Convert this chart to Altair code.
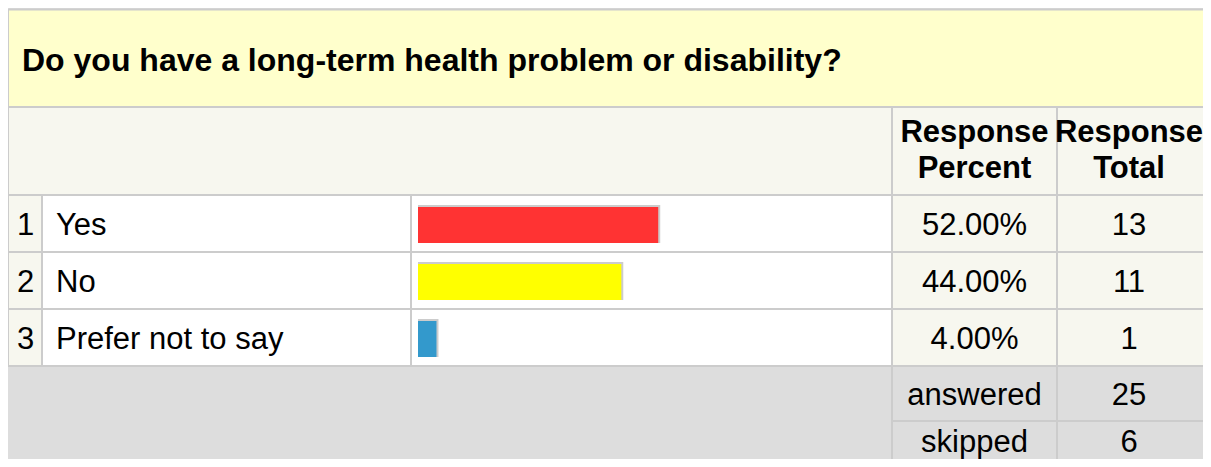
import altair as alt
import pandas as pd

# ---------------- data ----------------
question = "Do you have a long-term health problem or disability?"
answers = ["Yes", "No", "Prefer not to say"]
percents = [52.0, 44.0, 4.0]
counts = [13, 11, 1]
bar_colors = ["#ff3333", "#ffff00", "#3399cc"]
header_percent = ["Response", "Percent"]
header_total = ["Response", "Total"]
summary_labels = ["answered", "skipped"]
summary_values = [25, 6]

# ---------------- layout (page pixels) ----------------
PW, PH, M = 1203, 459, 8          # visible page area is M..PW x M..PH
COL = [8, 42, 411, 892, 1057, 1214]
TITLE_TOP, TITLE_BOT, HEAD_BOT = 9.5, 107, 195
ROW_H = 57
SUM_EDGES = [366, 421, 480]
SUM_BASE = [405, 452]
PCT_CX = (COL[3] + COL[4]) / 2
TOT_CX = 1129
CREAM, WHITE, GRAY, TITLE_BG, LINE = "#f7f7ef", "#ffffff", "#dddddd", "#ffffcc", "#cccccc"
FONT, FS = "Liberation Sans", 31

XS = alt.Scale(domain=[M, PW], range=[0, PW - M], zero=False, nice=False)
YS = alt.Scale(domain=[M, PH], range=[0, PH - M], zero=False, nice=False)
XB = alt.Scale(domain=[0, 100], range=[418 - M, 880 - M], zero=False, nice=False)

# rows table
rows = pd.DataFrame({"idx": range(1, len(answers) + 1), "answer": answers,
                     "pct": percents, "count": counts, "color": bar_colors})
rows["frac"] = rows["pct"] / 100.0
rows["top"] = HEAD_BOT + (rows["idx"] - 1) * ROW_H
rows["base"] = rows["top"] + 40
rows["btop"] = rows["top"] + 12
rows["bbot"] = rows["top"] + 48
rows["num_x"] = (COL[0] + COL[1]) / 2 + 0.5
rows["lab_x"] = COL[1] + 14
rows["pct_x"] = PCT_CX
rows["tot_x"] = TOT_CX
rows["num"] = rows["idx"].astype(str)

# cells table
cells = []
def cell(x1, x2, y1, y2, fill, stroked=True):
    cells.append({"x1": x1, "x2": x2, "y1": y1, "y2": y2, "fill": fill, "stroked": stroked})

cell(COL[0], COL[3], SUM_EDGES[0], SUM_EDGES[2], GRAY, False)
cell(COL[0], COL[5] + 20, TITLE_TOP, TITLE_BOT, TITLE_BG)
cell(COL[0], COL[3], TITLE_BOT, HEAD_BOT, CREAM)
cell(COL[3], COL[4], TITLE_BOT, HEAD_BOT, CREAM)
cell(COL[4], COL[5], TITLE_BOT, HEAD_BOT, CREAM)
for t in rows["top"]:
    b = t + ROW_H
    cell(COL[0], COL[1], t, b, CREAM)
    cell(COL[1], COL[2], t, b, WHITE)
    cell(COL[2], COL[3], t, b, WHITE)
    cell(COL[3], COL[4], t, b, CREAM)
    cell(COL[4], COL[5], t, b, CREAM)
for i in range(len(summary_labels)):
    cell(COL[3], COL[4], SUM_EDGES[i], SUM_EDGES[i + 1], GRAY)
    cell(COL[4], COL[5], SUM_EDGES[i], SUM_EDGES[i + 1], GRAY)
cells = pd.DataFrame(cells)

def X(f):
    return alt.X(f, type="quantitative", scale=XS, axis=None)

def Y(f):
    return alt.Y(f, type="quantitative", scale=YS, axis=None)

fills = alt.Chart(cells).mark_rect(strokeWidth=0).encode(
    x=X("x1"), x2="x2", y=Y("y1"), y2="y2", fill=alt.Fill("fill:N", scale=None))
lines = alt.Chart(cells[cells["stroked"]]).mark_rect(
    filled=False, stroke=LINE, strokeWidth=2).encode(
    x=X("x1"), x2="x2", y=Y("y1"), y2="y2")

# bars
shadow = alt.Chart(rows).mark_rect(color=LINE, xOffset=2, yOffset=-2).encode(
    x=alt.X("pct:Q", scale=XB, axis=None), x2=alt.datum(0),
    y=Y("btop"), y2="bbot")
bars = alt.Chart(rows).mark_rect().encode(
    x=alt.X("pct:Q", scale=XB, axis=None), x2=alt.datum(0),
    y=Y("btop"), y2="bbot", fill=alt.Fill("color:N", scale=None))

txt = dict(font=FONT, color="#000000", baseline="alphabetic")

title_df = pd.DataFrame({"x": [22], "y": [71], "t": [question]})
title = alt.Chart(title_df).mark_text(align="left", fontWeight="bold", fontSize=32, **txt).encode(
    x=X("x"), y=Y("y"), text="t:N")

head_df = pd.DataFrame({
    "x": [PCT_CX] * 2 + [TOT_CX] * 2,
    "y": [142, 178, 142, 178],
    "t": header_percent + header_total})
heads = alt.Chart(head_df).mark_text(align="center", fontWeight="bold", fontSize=FS, **txt).encode(
    x=X("x"), y=Y("y"), text="t:N")

nums = alt.Chart(rows).mark_text(align="center", fontSize=FS, **txt).encode(
    x=X("num_x"), y=Y("base"), text="num:N")
labels = alt.Chart(rows).mark_text(align="left", fontSize=FS, **txt).encode(
    x=X("lab_x"), y=Y("base"), text="answer:N")
pcts = alt.Chart(rows).mark_text(align="center", fontSize=FS, **txt).encode(
    x=X("pct_x"), y=Y("base"), text=alt.Text("frac:Q", format=".2%"))
tots = alt.Chart(rows).mark_text(align="center", fontSize=FS, **txt).encode(
    x=X("tot_x"), y=Y("base"), text="count:N")

summ = pd.DataFrame({"label": summary_labels, "value": [str(v) for v in summary_values],
                     "base": SUM_BASE})
summ["lx"] = PCT_CX
summ["vx"] = TOT_CX
sum_l = alt.Chart(summ).mark_text(align="center", fontSize=FS, **txt).encode(
    x=X("lx"), y=Y("base"), text="label:N")
sum_v = alt.Chart(summ).mark_text(align="center", fontSize=FS, **txt).encode(
    x=X("vx"), y=Y("base"), text="value:N")

chart = alt.layer(fills, lines, shadow, bars, title, heads, nums, labels, pcts, tots,
                  sum_l, sum_v).resolve_scale(x="independent").properties(
    width=PW - M, height=PH - M,
    autosize=alt.AutoSizeParams(type="none"), padding=0,
).configure_view(stroke=None).configure(background="white")

chart.save("out.html", embed_options={"renderer": "svg", "actions": False})
